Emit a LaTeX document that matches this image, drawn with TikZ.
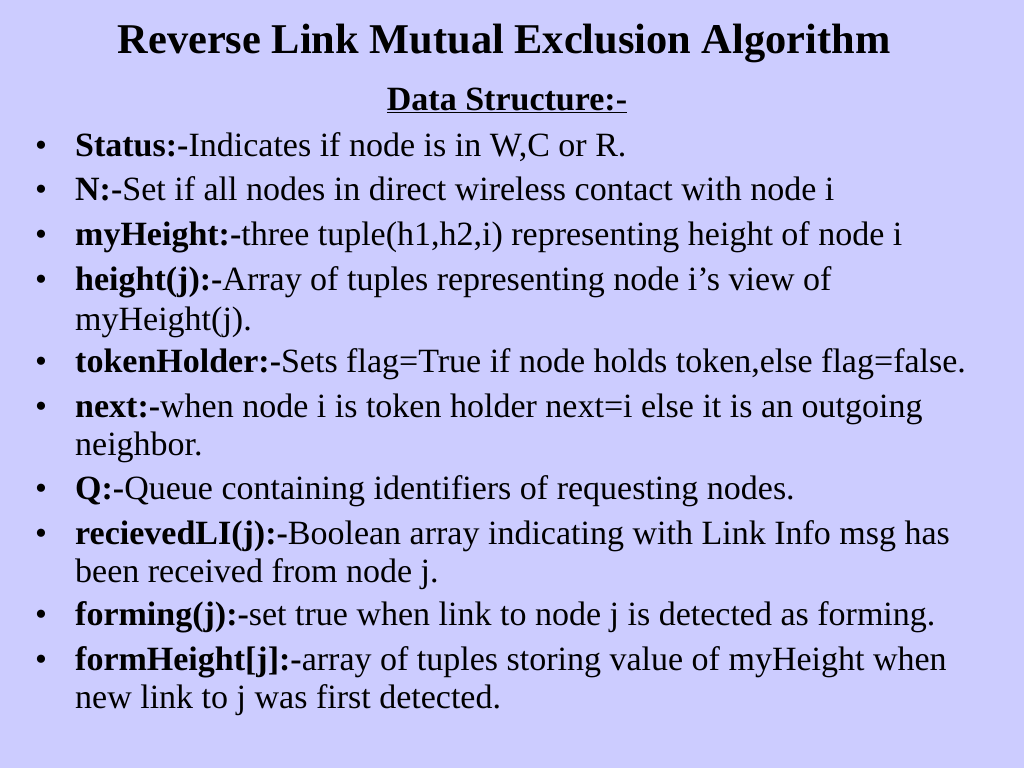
\documentclass[tikz,border=0pt]{standalone}
\usepackage{fontspec}
\setmainfont{Liberation Serif}
\definecolor{slidebg}{HTML}{CCCCFF}
\begin{document}
\begin{tikzpicture}[x=1pt,y=-1pt,
  line/.style={anchor=base west,inner sep=0pt,font=\fontsize{34}{36}\selectfont},
  bul/.style={anchor=base,inner sep=0pt,font=\fontsize{34}{36}\selectfont}]
\fill[slidebg] (0,0) rectangle (1024,768);
\useasboundingbox (0,0) rectangle (1024,768);
\node[anchor=base,inner sep=0pt,font=\fontsize{42.4}{44}\selectfont\bfseries] (title) at (504,53) {Reverse Link Mutual Exclusion Algorithm};
\node[anchor=base,inner sep=0pt,font=\fontsize{34}{36}\selectfont\bfseries] (ds) at (507,110) {\underline{Data Structure:-}};
\foreach \y/\n in {156/b1,200/b2,245/b3,290/b4,372/b5,417/b6,499/b7,544/b8,625/b9,670/b10}
  \node[bul] (\n) at (41,\y) {•};
\node[line] (l1) at (75,156) {\textbf{Status:-}Indicates if node is in W,C or R.};
\node[line] (l2) at (75,200) {\textbf{N:-}Set if all nodes in direct wireless contact with node i};
\node[line] (l3) at (75,245) {\textbf{myHeight:-}three tuple(h1,h2,i) representing height of node i};
\node[line] (l4) at (75,290) {\textbf{height(j):-}Array of tuples representing node i’s view of};
\node[line] (l4b) at (75,330) {myHeight(j).};
\node[line] (l5) at (75,372) {\textbf{tokenHolder:-}Sets flag=True if node holds token,else flag=false.};
\node[line] (l6) at (75,417) {\textbf{next:-}when node i is token holder next=i else it is an outgoing};
\node[line] (l6b) at (75,455) {neighbor.};
\node[line] (l7) at (75,499) {\textbf{Q:-}Queue containing identifiers of requesting nodes.};
\node[line] (l8) at (75,544) {\textbf{recievedLI(j):-}Boolean array indicating with Link Info msg has};
\node[line] (l8b) at (75,582) {been received from node j.};
\node[line] (l9) at (75,625) {\textbf{forming(j):-}set true when link to node j is detected as forming.};
\node[line] (l10) at (75,670) {\textbf{formHeight[j]:-}array of tuples storing value of myHeight when};
\node[line] (l10b) at (75,708) {new link to j was first detected.};
\end{tikzpicture}
\end{document}
